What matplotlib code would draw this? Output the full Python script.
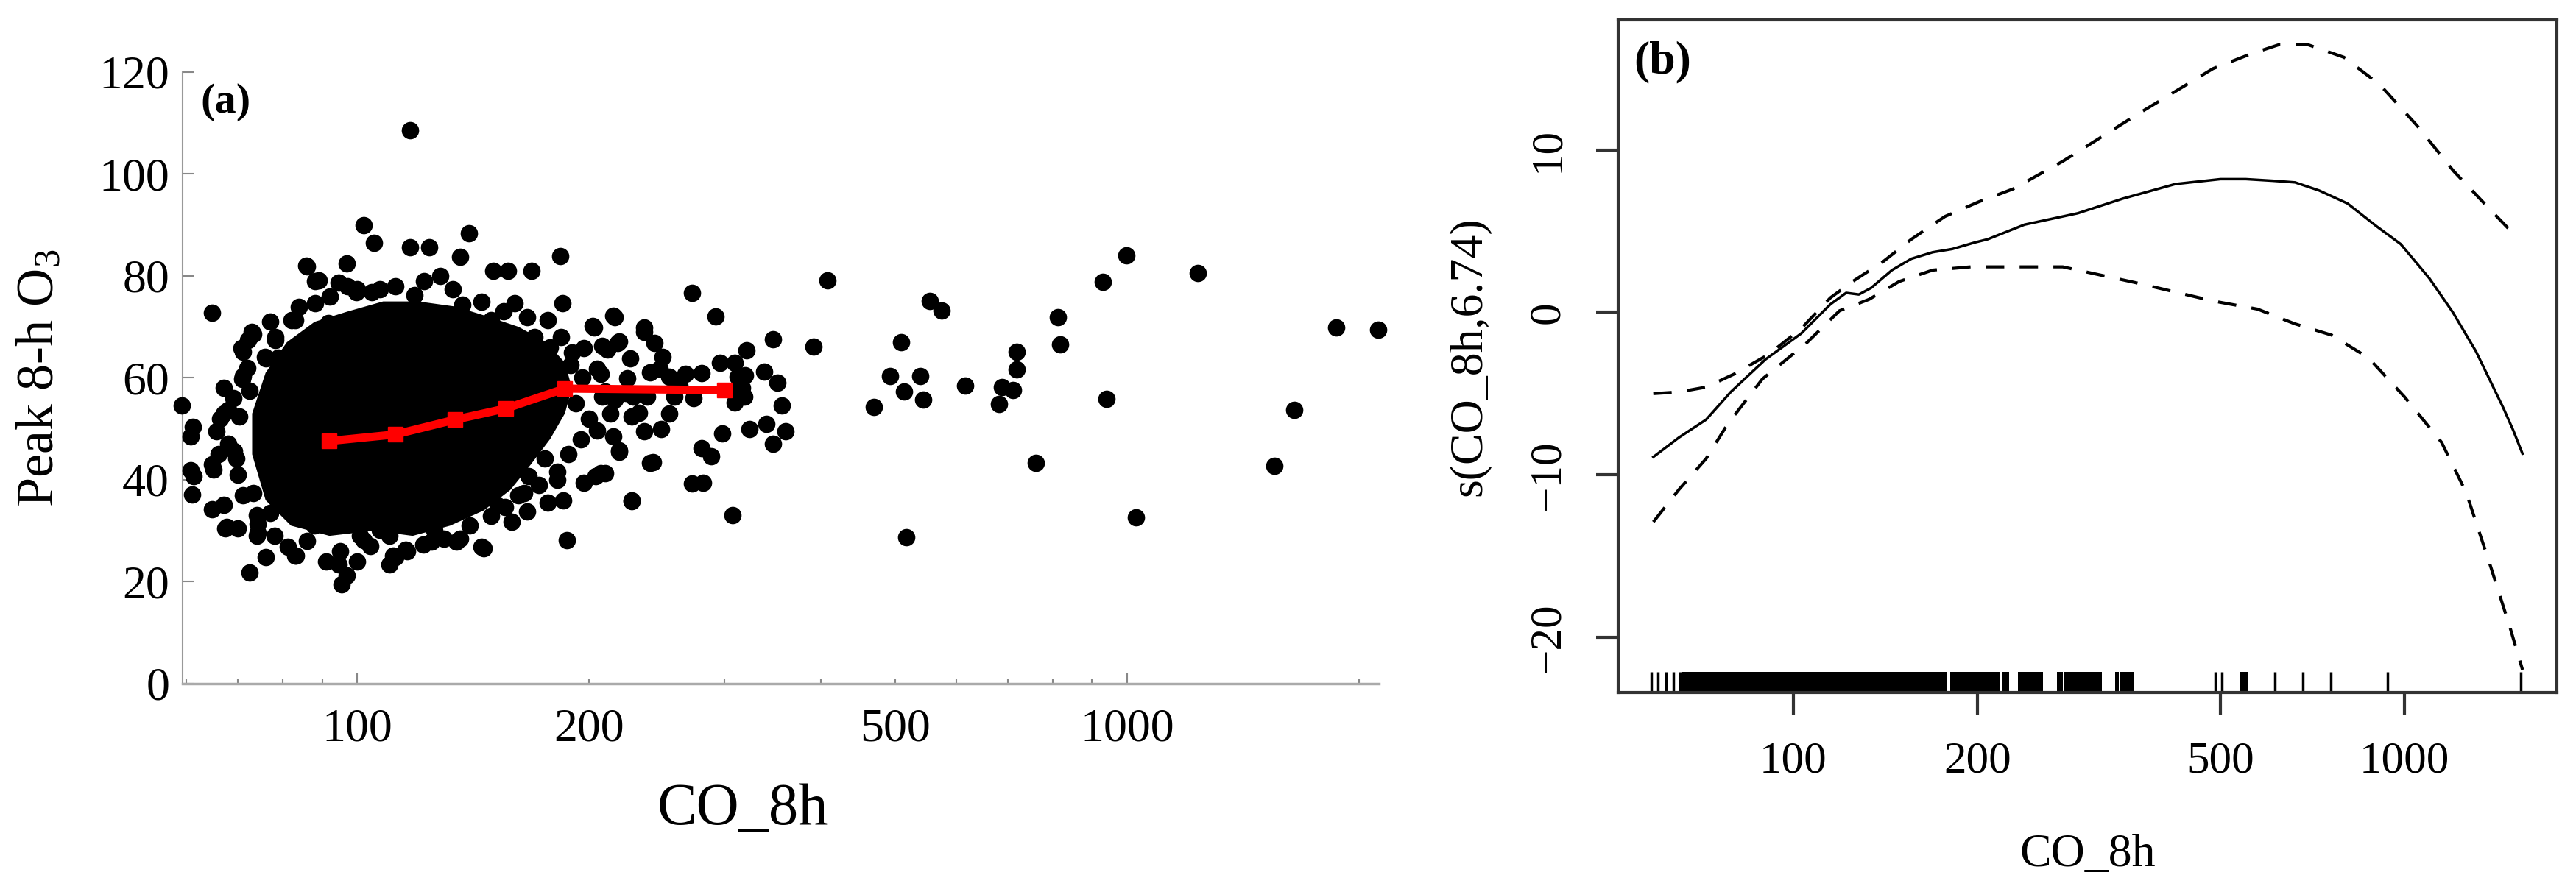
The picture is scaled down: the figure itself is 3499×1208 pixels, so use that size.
import matplotlib
matplotlib.use('Agg')
import matplotlib.pyplot as plt
from matplotlib.ticker import FixedLocator, FuncFormatter, NullLocator

plt.rcParams['font.family'] = ['Liberation Serif', 'DejaVu Serif']
plt.rcParams['mathtext.fontset'] = 'custom'
plt.rcParams['mathtext.rm'] = 'Liberation Serif'
plt.rcParams['mathtext.default'] = 'regular'

# ---- panel (a): daily points that stand out of the cloud (CO_8h, peak 8-h O3)
co_pts = [616, 682, 688, 710, 719, 719, 761, 813, 818, 929, 940, 998, 1026, 1236,
          1553, 1649, 1870, 2120,
          408, 391, 347, 338, 351, 356, 360, 340, 347, 323, 320, 318, 309, 307, 296,
          292, 298, 288, 280, 281, 272, 272, 280, 267, 273, 254, 242, 247, 236, 243,
          249, 232, 227, 224, 218, 216, 219, 215, 210, 203, 208, 204, 469, 492, 508,
          513, 516, 538, 543, 554, 574,
          205, 208, 213, 205, 210, 309, 312, 316, 309, 319,
          258, 262, 254, 238, 228, 227, 236, 248, 216,
          64.7, 59.2, 60.7, 61.0, 61.3, 65.1, 64.7, 67.3, 69.9, 72.4, 76.0, 67.0, 65.6,
          67.0, 70.3, 69.2, 70.8, 71.1, 72.2, 76.0, 78.2, 83.0, 86.1, 89.2, 94.6, 96.8,
          102, 99.6, 74.0, 83.0, 95.3, 96.8, 100,
          117.2, 105.2, 139.7, 117, 124, 136, 183.6, 150, 157, 168.5, 85.9, 184.5, 215,
          202, 236,
          110, 112, 146, 187, 166, 176.6, 227, 197, 207, 219, 240, 182, 134.6, 121.7,
          67.6, 74.2, 83.3, 91, 102, 107,
          88.1, 100, 107, 118.7, 133, 137, 149, 160, 166, 176.6, 184, 211, 219, 226,
          240, 197, 189, 207, 223,
          70.7, 73.3, 75.8, 78.2, 82.2, 88.1, 91.6, 104.5, 68, 66.3, 61.1, 71.1, 72.5,
          77.1,
          60.7, 64.7, 69.7, 73.3, 74.3, 77.1, 81.2, 94.5, 100.7, 111.4, 115.6, 124.9,
          129.6, 136, 145, 149, 155.6, 158.6, 164.8, 167, 175,
          68, 69, 70, 71, 72, 74, 66, 67, 73, 77, 79,
          84, 92, 97, 112, 122, 128, 145, 155, 170, 178,
          192, 195, 188, 182, 196, 190, 200, 185, 172,
          78, 86, 95, 104, 116, 126, 140, 152, 162, 88, 110]
o3_pts = [58.5, 54.9, 58.2, 57.6, 65.1, 61.7, 43.3, 71.9, 66.6, 78.8, 55.9, 84.0, 32.6, 80.6,
          42.7, 53.7, 69.9, 69.5,
          79.1, 66.1, 67.6, 61.2, 59.1, 54.6, 49.5, 51.0, 47.1, 50.0, 65.4, 56.3, 55.2, 33.1, 63.0,
          72.1, 49.1, 44.6, 46.2, 39.4, 39.3, 76.7, 60.9, 60.8, 56.0, 53.0, 43.5, 61.8, 69.0, 66.9,
          64.1, 53.1, 36.0, 59.9, 66.9, 71.9, 45.8, 48.5, 41.3, 69.9, 66.3, 40.7, 54.3, 60.4, 67.0,
          57.3, 28.7, 60.4, 55.7, 75.1, 73.2,
          61.8, 56.3, 53.0, 49.7, 57.3, 63.0, 60.2, 58.0, 57.3, 60.5,
          56.3, 58.5, 60.2, 56.3, 56.3, 52.4, 49.5, 50.0, 55.7,
          72.8, 54.6, 48.5, 37.1, 40.7, 42.0, 34.2, 30.5, 30.5, 21.8, 24.8, 35.1, 49.5,
          53.0, 52.4, 45.6, 59.8, 65.1, 67.4, 63.8, 67.4, 71.3, 81.9, 79.1, 78.7, 82.5,
          89.9, 76.8, 29.0, 25.1, 19.5, 21.2, 24.0,
          108.6, 86.5, 88.4, 85.6, 85.6, 83.8, 83.9, 81.0, 81.0, 81.0, 82.0, 74.7, 72.2,
          70.2, 69.9,
          23.4, 24.8, 26.6, 28.2, 33.8, 35.5, 35.8, 39.4, 41.3, 45.5, 43.3, 41.6, 27.9, 27.3,
          30.8, 29.6, 25.1, 24.0, 28.2, 30.2,
          79.0, 77.4, 77.4, 76.3, 77.4, 74.4, 71.3, 74.7, 71.9, 71.3, 68.0, 65.6, 67.2, 63.8,
          61.1, 65.8, 62.5, 60.8, 57.0,
          65.8, 68.6, 64.1, 68.0, 71.3, 74.7, 70.8, 76.8, 53.7, 52.0, 50.4, 60.4, 57.5,
          57.0,
          41.9, 43.0, 44.2, 37.4, 31.3, 33.5, 26.9, 23.4, 29.0, 25.1, 26.3, 27.9,
          28.4, 28.4, 26.9, 32.9, 34.7, 31.8, 37.4, 40.7, 44.2,
          47, 56, 41, 37, 62, 33, 45, 58, 69, 71, 64,
          74, 76, 78, 78, 79, 80, 75, 73, 68, 66,
          55, 48, 45, 40, 60, 65, 52, 36, 39,
          29, 28, 26, 27, 26, 30, 31, 35, 37, 31, 29]

# outline of the dense, fully black core of the cloud
core_co = [73, 76, 82, 92, 105, 118, 132, 146, 158, 168, 178, 186, 190, 186, 176, 162,
           148, 134, 120, 108, 97, 88, 81, 76, 73]
core_o3 = [45, 36, 31, 29, 30, 29, 31, 34, 38, 43, 48, 53, 58, 63, 67, 70,
           72, 74, 75, 75, 73, 71, 67, 61, 53]

# binned means (red line)
bin_co = [91.8, 112, 134, 156, 186, 300]
bin_o3 = [47.6, 48.9, 51.8, 54.0, 57.9, 57.6]

# ---- panel (b): GAM smooth s(CO_8h, 6.74) with its confidence band
fit_x = [59, 65, 72, 79, 90, 103, 115, 122, 128, 134, 145, 156, 169, 182, 198, 208, 239,
         292, 346, 422, 500, 550, 609, 662, 725, 807, 900, 986, 1098, 1200, 1309, 1452,
         1508, 1560]
fit_y = [-8.9, -7.7, -6.6, -4.9, -2.9, -1.3, 0.5, 1.2, 1.1, 1.5, 2.6, 3.3, 3.7, 3.9, 4.3,
         4.5, 5.4, 6.1, 7.0, 7.9, 8.2, 8.2, 8.1, 8.0, 7.5, 6.7, 5.3, 4.2, 2.1, 0.0, -2.4,
         -5.9, -7.3, -8.7]
up_x = [59, 65, 72, 80, 91, 103, 115, 125, 140, 156, 177, 201, 229, 276, 366, 486, 560,
        626, 692, 796, 912, 1048, 1203, 1383, 1520]
up_y = [-5.0, -4.9, -4.6, -3.8, -2.6, -1.0, 0.9, 1.9, 3.1, 4.5, 5.9, 6.8, 7.6, 9.3, 12.2,
        15.0, 15.9, 16.5, 16.5, 15.7, 14.0, 11.5, 8.7, 6.3, 4.7]
lo_x = [59, 65, 72, 78, 89, 105, 119, 133, 149, 169, 195, 225, 276, 366, 486, 575, 661,
        760, 873, 1000, 1150, 1262, 1385, 1491, 1560]
lo_y = [-12.9, -10.9, -9.0, -6.9, -4.1, -1.9, 0.1, 0.8, 1.9, 2.6, 2.8, 2.8, 2.8, 1.8, 0.7,
        0.2, -0.7, -1.4, -2.8, -5.2, -8.0, -11.1, -15.7, -19.5, -22.0]

# rug of observed CO_8h: single ticks and stretches that merge into solid blocks
rug_single = [58.6, 60.0, 61.9, 63.6, 65.2, 490, 502, 613, 682, 758, 938, 1550]
rug_blocks = [(65.6, 178), (180.5, 217.5), (219.5, 225.5), (233, 256), (270, 276),
              (277, 320), (336, 341), (343, 361), (538, 555)]

fig = plt.figure(figsize=(34.99, 12.08), dpi=100)

# ---------------- (a)
ax1 = fig.add_axes([0.0709, 0.2310, 0.4644, 0.6879])
ax1.fill(core_co, core_o3, color='black', lw=0, zorder=2)
ax1.scatter(co_pts, o3_pts, s=290, c='black', lw=0, zorder=3, clip_on=False)
ax1.plot(bin_co, bin_o3, color='#ff0000', lw=8, marker='s', ms=15,
         solid_capstyle='butt', zorder=4)
ax1.set_xscale('log')
ax1.set_xlim(59.3, 2123)
ax1.set_ylim(0, 120)
for s in ['top', 'right']:
    ax1.spines[s].set_visible(False)
ax1.spines['left'].set_color('#999999')
ax1.spines['left'].set_linewidth(1.5)
ax1.spines['bottom'].set_color('#aaaaaa')
ax1.spines['bottom'].set_linewidth(2.5)

ax1.set_yticks([0, 20, 40, 60, 80, 100, 120])
ax1.xaxis.set_major_locator(FixedLocator([100, 1000]))
ax1.xaxis.set_minor_locator(FixedLocator([60, 70, 80, 90, 200, 300, 400, 500, 600,
                                          700, 800, 900, 2000]))
ax1.xaxis.set_major_formatter(FuncFormatter(lambda v, p: '%d' % round(v)))
ax1.xaxis.set_minor_formatter(FuncFormatter(
    lambda v, p: '%d' % round(v) if round(v) in (200, 500) else ''))
ax1.tick_params(axis='y', direction='in', length=11.5, width=1.5, color='#888888',
                labelsize=46, pad=13)
ax1.tick_params(axis='x', which='both', direction='in', width=1.5, color='#888888',
                labelsize=46, pad=24)
ax1.tick_params(axis='x', which='major', length=10)
ax1.tick_params(axis='x', which='minor', length=4.5)

ax1.text(0.468, -0.23, 'CO_8h', transform=ax1.transAxes, ha='center',
         va='baseline', fontsize=58)
ax1.text(-0.119, 0.5, 'Peak 8-h O$_3$', transform=ax1.transAxes, rotation=90,
         ha='center', va='center', fontsize=52)
ax1.text(0.036, 0.951, '(a)', transform=ax1.transAxes, ha='center', va='center',
         fontsize=42, fontweight='bold')

# ---------------- (b)
ax2 = fig.add_axes([0.6282, 0.2210, 0.3644, 0.7566])
ax2.plot(fit_x, fit_y, color='black', lw=2.5)
ax2.plot(up_x, up_y, color='black', lw=3, dashes=(6, 5))
ax2.plot(lo_x, lo_y, color='black', lw=3, dashes=(6, 5))
ax2.vlines(rug_single, 0, 0.031, transform=ax2.get_xaxis_transform(),
           color='black', lw=2.5)
for a, b in rug_blocks:
    ax2.axvspan(a, b, 0, 0.031, color='black', lw=0)
ax2.set_xscale('log')
ax2.set_xlim(51.7, 1776)
ax2.set_ylim(-23.4, 18)
ax2.xaxis.set_major_locator(FixedLocator([100, 200, 500, 1000]))
ax2.xaxis.set_minor_locator(NullLocator())
ax2.xaxis.set_major_formatter(FuncFormatter(lambda v, p: '%d' % round(v)))
ax2.set_yticks([-20, -10, 0, 10])
ax2.set_yticklabels(['\u221220', '\u221210', '0', '10'], rotation=90, va='center')
for s in ax2.spines.values():
    s.set_linewidth(3)
    s.set_color('#333333')
ax2.tick_params(axis='both', direction='out', length=21.6, width=3, color='#333333',
                labelsize=44)
ax2.tick_params(axis='x', pad=26)
ax2.tick_params(axis='y', pad=27)

ax2.text(0.5, -0.258, 'CO_8h', transform=ax2.transAxes, ha='center',
         va='baseline', fontsize=46)
ax2.text(-0.159, 0.5, 's(CO_8h,6.74)', transform=ax2.transAxes, rotation=90,
         ha='center', va='center', fontsize=46)
ax2.text(0.047, 0.937, '(b)', transform=ax2.transAxes, ha='center', va='center',
         fontsize=46, fontweight='bold')

fig.savefig('out.png', dpi=100)
